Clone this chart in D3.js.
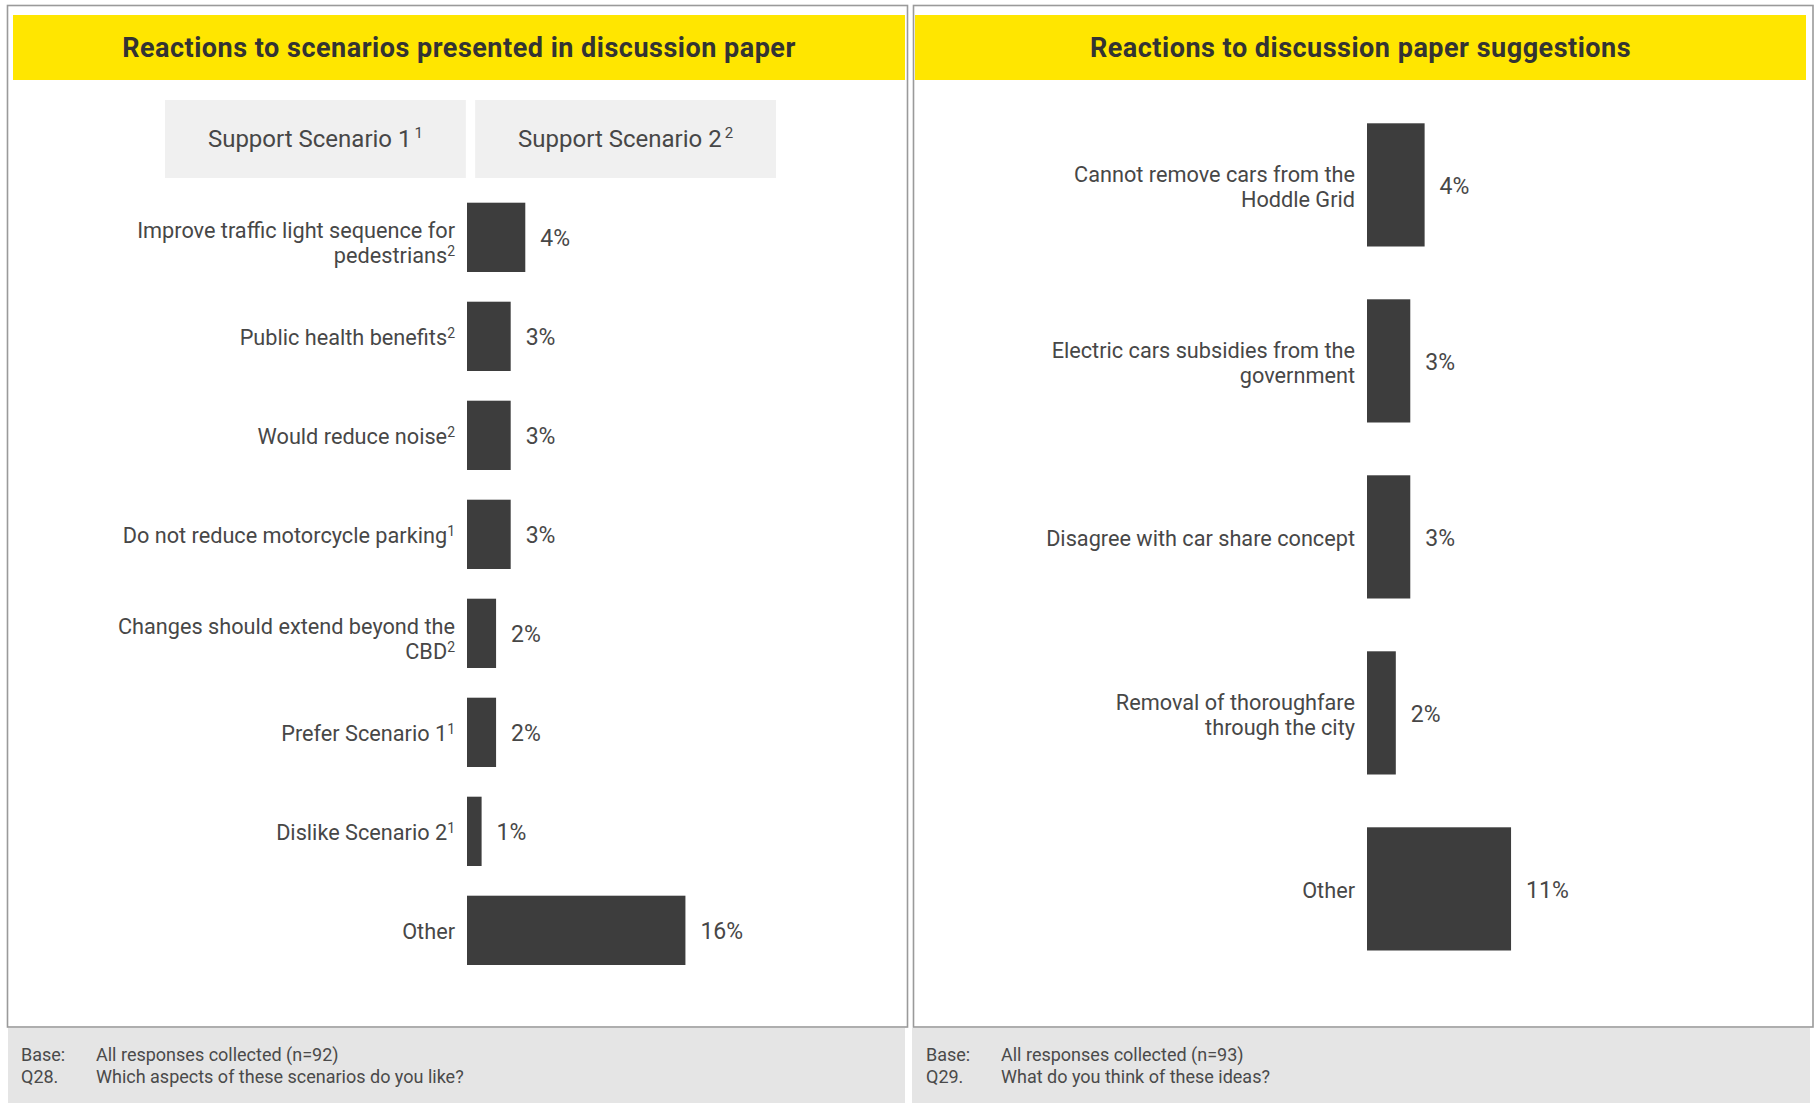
<!DOCTYPE html>
<html>
<head>
<meta charset="utf-8">
<script src="https://cdn.jsdelivr.net/npm/d3@7/dist/d3.min.js"></script>
<style>
  html, body { margin: 0; padding: 0; background: #ffffff; }
  svg { display: block; }
  text { font-family: Roboto, "Open Sans", sans-serif; }
</style>
</head>
<body>
<svg id="chart" width="1816" height="1103"></svg>
<script>
// ---------------- DATA ----------------
const panelTitles = ["Reactions to scenarios presented in discussion paper", "Reactions to discussion paper suggestions"];

const scenarioHeaders = ["Support Scenario 1", "Support Scenario 2"];
const scenarioHeaderSup = ["1", "2"];

const leftCategories = [
  "Improve traffic light sequence for\npedestrians",
  "Public health benefits",
  "Would reduce noise",
  "Do not reduce motorcycle parking",
  "Changes should extend beyond the\nCBD",
  "Prefer Scenario 1",
  "Dislike Scenario 2",
  "Other"
];
const leftSup = ["2", "2", "2", "1", "2", "1", "1", ""];
const leftValues = [4.35, 3.26, 3.26, 3.26, 2.17, 2.17, 1.09, 16.3];

const rightCategories = [
  "Cannot remove cars from the\nHoddle Grid",
  "Electric cars subsidies from the\ngovernment",
  "Disagree with car share concept",
  "Removal of thoroughfare\nthrough the city",
  "Other"
];
const rightValues = [4.3, 3.23, 3.23, 2.15, 10.75];

const footerBase = ["All responses collected (n=92)", "All responses collected (n=93)"];
const footerQuestionId = ["Q28.", "Q29."];
const footerQuestion = ["Which aspects of these scenarios do you like?", "What do you think of these ideas?"];

// ---------------- DRAW ----------------
const svg = d3.select("#chart");
const YELLOW = "#FFE600";
const BAR = "#3d3d3d";
const TEXT = "#474747";

const panels = [
  { bx: 7.5, bw: 900, yx: 13, yw: 892, fx: 8, fw: 897 },
  { bx: 913.5, bw: 899.5, yx: 915, yw: 891, fx: 912, fw: 898 }
];

panels.forEach((p, i) => {
  // footer band
  svg.append("rect").attr("x", p.fx).attr("y", 1028).attr("width", p.fw).attr("height", 75).attr("fill", "#e5e5e5");
  // border
  svg.append("rect").attr("x", p.bx).attr("y", 5.5).attr("width", p.bw).attr("height", 1021.5)
    .attr("fill", "#ffffff").attr("stroke", "#9a9a9a").attr("stroke-width", 1.6);
  // yellow header
  svg.append("rect").attr("x", p.yx).attr("y", 15).attr("width", p.yw).attr("height", 65).attr("fill", YELLOW);
  svg.append("text").attr("x", p.yx + p.yw / 2).attr("y", 57).attr("text-anchor", "middle")
    .attr("font-size", 27).attr("font-weight", 700).attr("letter-spacing", 0.5).attr("fill", "#333333")
    .text(panelTitles[i]);
  // footer text
  const fx = i === 0 ? 21 : 926;
  const ft = svg.append("g").attr("font-size", 18).attr("fill", "#4a4a4a");
  ft.append("text").attr("x", fx).attr("y", 1061).text("Base:");
  ft.append("text").attr("x", fx + 75).attr("y", 1061).text(footerBase[i]);
  ft.append("text").attr("x", fx).attr("y", 1083).text(footerQuestionId[i]);
  ft.append("text").attr("x", fx + 75).attr("y", 1083).text(footerQuestion[i]);
});

// scenario header boxes (left panel)
const hdrScale = d3.scaleBand().domain(scenarioHeaders).range([165, 776]).paddingInner(0.03);
scenarioHeaders.forEach((h, i) => {
  const x = hdrScale(h);
  svg.append("rect").attr("x", x).attr("y", 100).attr("width", hdrScale.bandwidth()).attr("height", 78).attr("fill", "#f0f0f0");
  const t = svg.append("text").attr("x", x + hdrScale.bandwidth() / 2).attr("y", 147).attr("text-anchor", "middle")
    .attr("font-size", 24).attr("fill", TEXT);
  t.append("tspan").text(h);
  t.append("tspan").attr("font-size", 15).attr("dx", 3).attr("dy", -9).text(scenarioHeaderSup[i]);
});

function drawBars(cats, vals, sups, x0, yRange, twoLineDy) {
  const x = d3.scaleLinear().domain([0, 20]).range([x0, x0 + 268]);
  const y = d3.scaleBand().domain(cats).range(yRange).paddingInner(0.3).paddingOuter(0.15);
  const g = svg.append("g");
  g.selectAll("rect.bar").data(cats).enter().append("rect")
    .attr("class", "bar")
    .attr("x", x(0))
    .attr("y", d => y(d))
    .attr("width", (d, i) => x(vals[i]) - x(0))
    .attr("height", y.bandwidth())
    .attr("fill", BAR);
  // value labels
  g.selectAll("text.val").data(cats).enter().append("text")
    .attr("class", "val")
    .attr("x", (d, i) => x(vals[i]) + 15)
    .attr("y", d => y(d) + y.bandwidth() / 2 + 9)
    .attr("font-size", 23).attr("fill", TEXT)
    .text((d, i) => Math.round(vals[i]) + "%");
  // category labels
  cats.forEach((c, i) => {
    const lines = c.split("\n");
    const cy = y(c) + y.bandwidth() / 2;
    const startY = lines.length === 1 ? cy + 9 : cy + twoLineDy;
    const t = g.append("text").attr("text-anchor", "end").attr("font-size", 21.7).attr("fill", TEXT);
    lines.forEach((ln, k) => {
      t.append("tspan").attr("x", x(0) - 12).attr("y", startY + k * 25).text(ln);
      if (k === lines.length - 1 && sups && sups[i]) {
        t.append("tspan").attr("font-size", 14).attr("dy", -7).text(sups[i]);
      }
    });
  });
}

drawBars(leftCategories, leftValues, leftSup, 467, [187.85, 979.85], 1);
drawBars(rightCategories, rightValues, null, 1367, [96.9, 976.9], -3);
</script>
</body>
</html>
